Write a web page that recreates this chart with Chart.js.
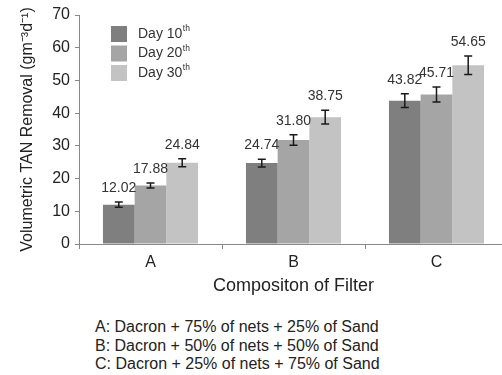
<!DOCTYPE html>
<html>
<head>
<meta charset="utf-8">
<script src="https://cdn.jsdelivr.net/npm/chart.js@4"></script>
<style>
  html, body { margin: 0; padding: 0; background: #fff; overflow: hidden; width: 502px; height: 375px; }
  #wrap { position: absolute; left: 0; top: 0; width: 510px; height: 300px; }
  #note {
    position: absolute; left: 95px; top: 318px;
    font-family: "Liberation Sans", Arial, sans-serif; font-size: 16px;
    line-height: 18.5px; color: #222; white-space: nowrap;
  }
</style>
</head>
<body>
<div id="wrap"><canvas id="myChart"></canvas></div>
<div id="note">
  <div>A: Dacron + 75% of nets + 25% of Sand</div>
  <div>B: Dacron + 50% of nets + 50% of Sand</div>
  <div>C: Dacron + 25% of nets + 75% of Sand</div>
</div>
<script>
const categories = ['A', 'B', 'C'];
const seriesNames = ['Day 10', 'Day 20', 'Day 30'];
const day10 = [12.02, 24.74, 43.82];
const day20 = [17.88, 31.80, 45.71];
const day30 = [24.84, 38.75, 54.65];
const err10 = [0.8, 1.2, 2.1];
const err20 = [0.8, 1.6, 2.3];
const err30 = [1.2, 2.1, 2.8];
const yTicks = [0, 10, 20, 30, 40, 50, 60, 70];

const FONT = '"Liberation Sans", Arial, sans-serif';
const colors = ['#7f7f7f', '#a5a5a5', '#c3c3c3'];

// error bars + value labels on top of each bar
const errorBars = {
  id: 'errorBars',
  afterDatasetsDraw(chart) {
    const ctx = chart.ctx;
    const y = chart.scales.y;
    ctx.save();
    chart.data.datasets.forEach((ds, i) => {
      const meta = chart.getDatasetMeta(i);
      meta.data.forEach((bar, j) => {
        const v = ds.data[j];
        const e = ds.errors[j];
        const top = y.getPixelForValue(v + e);
        const bot = y.getPixelForValue(v - e);
        const x = bar.x;
        ctx.strokeStyle = '#1a1a1a';
        ctx.lineWidth = 1.5;
        ctx.beginPath();
        ctx.moveTo(x, top); ctx.lineTo(x, bot);
        ctx.moveTo(x - 4, top); ctx.lineTo(x + 4, top);
        ctx.moveTo(x - 4, bot); ctx.lineTo(x + 4, bot);
        ctx.stroke();
        ctx.fillStyle = '#333';
        ctx.font = '14px ' + FONT;
        ctx.textAlign = 'center';
        ctx.textBaseline = 'bottom';
        ctx.fillText(v.toFixed(2), x, top - 7);
      });
    });
    ctx.restore();
  }
};

// legend inside plot, with superscript "th"
const boxLegend = {
  id: 'boxLegend',
  afterDraw(chart) {
    const ctx = chart.ctx;
    const x0 = 111, y0 = 26, step = 19.5;
    ctx.save();
    chart.data.datasets.forEach((ds, i) => {
      const yy = y0 + i * step;
      ctx.fillStyle = ds.backgroundColor;
      ctx.fillRect(x0, yy, 16, 16);
      ctx.fillStyle = '#333';
      ctx.textAlign = 'left';
      ctx.textBaseline = 'middle';
      ctx.font = '14px ' + FONT;
      ctx.fillText(ds.label, x0 + 27, yy + 8);
      const w = ctx.measureText(ds.label).width;
      ctx.font = '8.5px ' + FONT;
      ctx.fillText('th', x0 + 27 + w + 0.5, yy + 3);
    });
    ctx.restore();
  }
};

const series = [day10, day20, day30];
const errs = [err10, err20, err30];

new Chart(document.getElementById('myChart').getContext('2d'), {
  type: 'bar',
  data: {
    labels: categories,
    datasets: series.map((d, i) => ({
      label: seriesNames[i],
      data: d,
      errors: errs[i],
      backgroundColor: colors[i],
      borderWidth: 0,
      categoryPercentage: 0.665,
      barPercentage: 1.0
    }))
  },
  options: {
    responsive: true,
    maintainAspectRatio: false,
    animation: false,
    layout: { padding: { top: 15, right: 2, left: 0, bottom: 0 } },
    plugins: { legend: { display: false }, tooltip: { enabled: false } },
    scales: {
      x: {
        offset: true,
        grid: { display: true, drawOnChartArea: false, drawTicks: true, tickLength: 5, offset: true, color: '#888' },
        border: { color: '#888', width: 1 },
        ticks: { color: '#222', font: { family: FONT, size: 16 }, padding: 4 },
        title: { display: true, text: 'Compositon of Filter', color: '#222', font: { family: FONT, size: 18 }, padding: { top: 0, bottom: 3 } },
        afterFit(scale) { scale.height = 56; }
      },
      y: {
        min: 0,
        max: 70,
        afterBuildTicks(scale) { scale.ticks = yTicks.map(v => ({ value: v })); },
        grid: { display: true, drawOnChartArea: false, drawTicks: true, tickLength: 4, color: '#888' },
        border: { color: '#888', width: 1 },
        ticks: { color: '#222', font: { family: FONT, size: 16 }, padding: 5 },
        title: { display: true, text: 'Volumetric TAN Removal (gm\u207B\u00B3d\u207B\u00B9)', color: '#222', font: { family: FONT, size: 16 }, padding: { top: 18, bottom: 0 } },
        afterFit(scale) { scale.width = 79; }
      }
    }
  },
  plugins: [errorBars, boxLegend]
});
</script>
</body>
</html>
